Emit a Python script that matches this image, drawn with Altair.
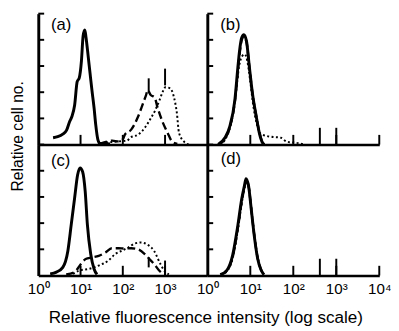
import altair as alt
import pandas as pd

# ---------------- data ----------------
# x = fluorescence intensity (log scale), y = relative cell number
a_solid_x = [2.24, 2.88, 3.80, 4.68, 5.50, 6.17, 7.24, 8.32, 9.33, 10.5, 11.5, 12.6, 13.5, 15.1, 17.0, 18.6, 20.9, 22.9, 25.7, 28.8, 40.0, 50.0]
a_solid_y = [0.26, 0.30, 0.40, 0.55, 0.87, 1.05, 1.50, 2.40, 2.55, 3.20, 4.15, 4.38, 4.08, 3.40, 2.64, 2.08, 1.40, 0.75, 0.19, 0.04, 0.03, 0.02]
a_dash_x = [28.2, 39.8, 56.2, 79.4, 100, 112, 158, 229, 302, 355, 389, 457, 562, 661, 871, 1148, 1479, 1950]
a_dash_y = [0.03, 0.10, 0.15, 0.12, 0.20, 0.38, 0.57, 1.06, 1.58, 1.89, 2.08, 1.89, 1.81, 1.43, 0.87, 0.45, 0.11, 0.03]
a_dot_x = [39.8, 79.4, 126, 148, 229, 331, 457, 589, 741, 871, 1023, 1318, 1622, 1905, 2138, 2818, 3631]
a_dot_y = [0.08, 0.12, 0.15, 0.26, 0.38, 0.64, 1.00, 1.32, 1.70, 2.00, 2.19, 2.15, 1.81, 1.20, 0.45, 0.11, 0.0]

b_solid_x = [1.78, 2.57, 3.31, 4.37, 5.13, 5.62, 6.31, 7.08, 8.13, 9.55, 11.2, 13.8, 16.2, 19.1, 20.9]
b_solid_y = [0.0, 0.26, 0.68, 1.70, 2.94, 3.58, 4.08, 4.20, 3.96, 2.94, 1.96, 1.06, 0.45, 0.08, 0.0]
b_dash_x = [1.85, 2.62, 3.35, 4.40, 5.20, 5.70, 6.40, 7.10, 8.20, 9.60, 11.3, 13.9, 16.4, 19.3, 21.2]
b_dash_y = [0.0, 0.24, 0.66, 1.68, 2.90, 3.52, 4.02, 4.12, 3.90, 2.90, 1.92, 1.04, 0.44, 0.08, 0.0]
b_dot_x = [2.0, 2.82, 3.55, 4.57, 5.50, 6.60, 7.41, 8.50, 10.0, 11.7, 14.1, 16.6, 19.1, 30.2, 51.3, 70.8, 100, 148, 178]
b_dot_y = [0.0, 0.30, 0.80, 1.90, 3.00, 3.40, 3.45, 3.20, 2.40, 1.50, 0.80, 0.45, 0.38, 0.30, 0.26, 0.11, 0.08, 0.04, 0.0]

c_solid_x = [1.91, 2.69, 3.80, 5.01, 6.03, 7.24, 8.51, 9.77, 11.2, 12.9, 14.5, 17.4, 20.9, 24.5]
c_solid_y = [0.06, 0.13, 0.31, 0.94, 1.95, 2.96, 3.84, 4.11, 3.96, 3.20, 1.95, 0.82, 0.25, 0.04]
c_dash_x = [4.57, 7.24, 10.2, 13.2, 18.6, 26.9, 38.9, 55.0, 79.4, 112, 158, 229, 331, 427, 550, 724, 933]
c_dash_y = [0.04, 0.13, 0.44, 0.63, 0.69, 0.75, 0.88, 1.04, 1.04, 1.03, 1.04, 1.00, 0.82, 0.63, 0.44, 0.19, 0.04]
c_dot_x = [6.61, 9.33, 15.8, 26.9, 45.7, 66.1, 93.3, 135, 191, 269, 389, 550, 776, 1023, 1230]
c_dot_y = [0.06, 0.19, 0.25, 0.38, 0.57, 0.82, 0.94, 1.07, 1.22, 1.26, 1.17, 0.94, 0.44, 0.13, 0.04]

d_solid_x = [2.0, 2.88, 3.89, 5.13, 6.31, 7.41, 7.94, 9.12, 10.5, 12.6, 14.8, 17.8, 20.9]
d_solid_y = [0.03, 0.21, 0.78, 1.91, 2.92, 3.48, 3.70, 3.42, 2.54, 1.41, 0.65, 0.21, 0.03]
d_dash_x = [2.05, 2.92, 3.95, 5.20, 6.40, 7.45, 8.00, 9.20, 10.6, 12.7, 15.0, 18.0, 21.2]
d_dash_y = [0.03, 0.20, 0.76, 1.88, 2.88, 3.44, 3.66, 3.38, 2.50, 1.38, 0.63, 0.20, 0.03]
d_dot_x = [2.1, 2.95, 4.0, 5.25, 6.45, 7.5, 8.05, 9.25, 10.7, 12.8, 15.1, 18.2, 21.5]
d_dot_y = [0.03, 0.19, 0.74, 1.85, 2.85, 3.40, 3.62, 3.35, 2.48, 1.36, 0.62, 0.19, 0.03]

# vertical marker bars (channel markers) per panel: x, from y, to y
marker_panel = ["a", "a", "b", "b", "c", "c", "d", "d"]
marker_x = [410, 1000, 415, 1000, 410, 1000, 415, 1000]
marker_y0 = [1.96, 2.26, 0.0, 0.0, 0.31, 0.0, 0.0, 0.0]
marker_y1 = [2.53, 2.90, 0.64, 0.64, 0.69, 0.57, 0.64, 0.64]

decades_left = [1, 10, 100, 1000]
decades_right = [1, 10, 100, 1000, 10000]
count_ticks = [1, 2, 3, 4, 5]

panel_names = ["a", "b", "c", "d"]
panel_texts = ["(a)", "(b)", "(c)", "(d)"]
label_x = [2.0, 2.0, 2.0, 2.05]
label_y = [4.55, 4.55, 4.35, 4.45]

x_title = "Relative fluorescence intensity (log scale)"
y_title = "Relative cell no."

# ---------------- tables ----------------
curves = {
    ("a", "solid"): (a_solid_x, a_solid_y), ("a", "dash"): (a_dash_x, a_dash_y), ("a", "dot"): (a_dot_x, a_dot_y),
    ("b", "solid"): (b_solid_x, b_solid_y), ("b", "dash"): (b_dash_x, b_dash_y), ("b", "dot"): (b_dot_x, b_dot_y),
    ("c", "solid"): (c_solid_x, c_solid_y), ("c", "dash"): (c_dash_x, c_dash_y), ("c", "dot"): (c_dot_x, c_dot_y),
    ("d", "solid"): (d_solid_x, d_solid_y), ("d", "dash"): (d_dash_x, d_dash_y), ("d", "dot"): (d_dot_x, d_dot_y),
}
rows = []
for (p, s), (xs, ys) in curves.items():
    for xv, yv in zip(xs, ys):
        rows.append({"panel": p, "series": s, "x": xv, "y": yv})
curve_df = pd.DataFrame(rows)

marker_df = pd.DataFrame({"panel": marker_panel, "x": marker_x, "y": marker_y0, "y2": marker_y1})

FONT = "Liberation Sans"
XS = alt.Scale(type="log", domain=[1, 10000], nice=False)
YS = alt.Scale(domain=[0, 5], nice=False, zero=True)

LABEL_EXPR = ("datum.value == 1 ? '10\u2070' : datum.value == 10 ? '10\u00b9' : "
              "datum.value == 100 ? '10\u00b2' : datum.value == 1000 ? '10\u00b3' : '10\u2074'")


def make_panel(idx, width, height, right, bottom):
    p = panel_names[idx]
    decades = decades_right if right else decades_left
    xaxis_kw = dict(domain=True, domainColor="black", domainWidth=2.5, ticks=False, grid=False,
                    values=decades, labels=bottom, labelExpr=LABEL_EXPR, labelFont=FONT,
                    labelFontSize=15.5, labelColor="black", labelPadding=6, labelFlush=False,
                    labelOverlap=False, title=None)
    yaxis_kw = dict(domain=True, domainColor="black", domainWidth=3, ticks=False, grid=False,
                    labels=False, title=None)
    if p == "a":
        yaxis_kw.update(title=y_title, titleFont=FONT, titleFontSize=16, titleFontWeight="normal",
                        titleColor="black", titleAngle=270, titleX=-21, titleY=125,
                        titleAlign="center", titleBaseline="middle")
    if p == "c":
        xaxis_kw.update(title=x_title, titleFont=FONT, titleFontSize=17.5, titleFontWeight="normal",
                        titleColor="black", titleX=171, titleY=48, titleAlign="center",
                        titleBaseline="alphabetic")
    X = alt.X("x:Q", scale=XS, axis=alt.Axis(**xaxis_kw))
    Y = alt.Y("y:Q", scale=YS, axis=alt.Axis(**yaxis_kw))

    cdf = curve_df[curve_df.panel == p]
    solid = alt.Chart(cdf[cdf.series == "solid"]).mark_line(
        color="black", strokeWidth=3, interpolate="monotone").encode(x=X, y=Y)
    dash = alt.Chart(cdf[cdf.series == "dash"]).mark_line(
        color="black", strokeWidth=2.4, strokeDash=[8, 4], interpolate="monotone").encode(x=X, y=Y)
    dot = alt.Chart(cdf[cdf.series == "dot"]).mark_line(
        color="black", strokeWidth=2, strokeDash=[2, 2.5], interpolate="monotone").encode(x=X, y=Y)

    ytick_df = pd.DataFrame({"y": count_ticks})
    yticks = alt.Chart(ytick_df).mark_rule(color="black", strokeWidth=2).encode(
        y=Y, x=alt.value(0), x2=alt.value(6))

    xtick_df = pd.DataFrame({"x": decades[1:], "y": [0.0] * (len(decades) - 1),
                             "y2": [0.37] * (len(decades) - 1)})
    xticks = alt.Chart(xtick_df).mark_rule(color="black", strokeWidth=2).encode(
        x=X, y=Y, y2="y2:Q")
    markers = alt.Chart(marker_df[marker_df.panel == p]).mark_rule(
        color="black", strokeWidth=2).encode(x=X, y=Y, y2="y2:Q")

    lab_df = pd.DataFrame({"x": [label_x[idx]], "y": [label_y[idx]], "t": [panel_texts[idx]]})
    lab = alt.Chart(lab_df).mark_text(align="left", baseline="middle", font=FONT, fontSize=17,
                                      color="black").encode(x=X, y=Y, text="t:N")

    return alt.layer(xticks, markers, yticks, dot, dash, solid, lab).properties(
        width=width, height=height)


WL, WR, H = 173, 176, 134
pa = make_panel(0, WL, H, False, False)
pb = make_panel(1, WR, H, True, False)
pc = make_panel(2, WL, H, False, True)
pd_ = make_panel(3, WR, H, True, True)

chart = alt.concat(
    pa, pb, pc, pd_, columns=2, spacing=0, bounds="flush",
).properties(
    padding={"left": 2, "top": 1, "right": 0, "bottom": 0},
    background="white",
).configure_view(stroke=None)

chart.save("out.html", embed_options={"renderer": "svg", "actions": False})
